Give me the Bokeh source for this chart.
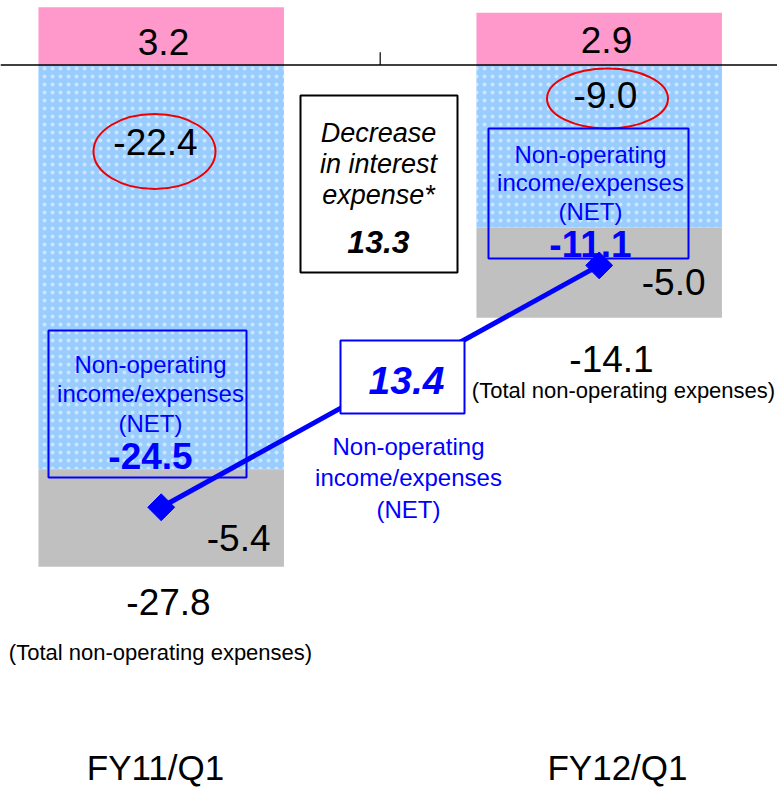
from bokeh.plotting import figure
from bokeh.models import Range1d, Span
from bokeh.core.properties import value
from bokeh.embed import file_html
from bokeh.resources import INLINE
import math

# Non-operating income / expenses, billions of yen
categories = ["FY11/Q1", "FY12/Q1"]
other_income = [3.2, 2.9]          # non-operating income
interest_expense = [-22.4, -9.0]   # interest expense
other_expense = [-5.4, -5.0]       # other non-operating expenses
total_expense = [-27.8, -14.1]     # total non-operating expenses
net_result = [-24.5, -11.1]        # non-operating income/expenses (NET)
net_change = 13.4
interest_decrease = 13.3

W, H = 777, 790
REG = "Liberation Sans"
BLUE = "#0000ff"

p = figure(width=W, height=H, output_backend="svg", toolbar_location=None,
           x_axis_type=None, y_axis_type=None, min_border=0,
           x_range=Range1d(-0.3669, 1.4071), y_range=Range1d(-40.19, 3.573))
p.outline_line_color = None
p.grid.visible = False
p.background_fill_color = "white"
p.border_fill_color = "white"
# pixel-space ranges for callouts and notes
p.extra_x_ranges = {"px": Range1d(0, W)}
p.extra_y_ranges = {"px": Range1d(H, 0)}
PX = dict(x_range_name="px", y_range_name="px")

xs = list(range(len(categories)))
bar_w = 0.5605
stack_bottom = [a + b for a, b in zip(interest_expense, other_expense)]

p.vbar(x=xs, bottom=0, top=other_income, width=bar_w,
       fill_color="#ff99cc", line_color=None)
p.vbar(x=xs, bottom=0, top=interest_expense, width=bar_w,
       fill_color="#99ccff", line_color=None,
       hatch_pattern="dot", hatch_color="white", hatch_alpha=0.5,
       hatch_scale=8, hatch_weight=1.5)
p.vbar(x=xs, bottom=interest_expense, top=stack_bottom, width=bar_w,
       fill_color="#c0c0c0", line_color=None)

# zero line and category separator tick
p.add_layout(Span(location=0, dimension="width", line_color="black", line_width=1.5))
p.segment(x0=[0.5], y0=[0], x1=[0.5], y1=[0.7], line_color="black", line_width=1.2)


def txt(x, y, s, size, color="black", style="normal", align="center"):
    p.text(x=[x], y=[y], text=[s], text_font=value(REG), text_font_size=f"{size}px",
           text_font_style=style, text_color=color, text_align=align,
           text_baseline="middle", **PX)


def box(l, r, t, b, color, lw, fill=None):
    p.quad(left=[l], right=[r], top=[t], bottom=[b], fill_color=fill,
           line_color=color, line_width=lw, **PX)


# segment values
txt(163, 41, f"{other_income[0]:.1f}", 37)
txt(606, 39, f"{other_income[1]:.1f}", 37)
txt(155, 141, f"{interest_expense[0]:.1f}", 37)
txt(605, 94, f"{interest_expense[1]:.1f}", 37)
txt(270, 537, f"{other_expense[0]:.1f}", 37, align="right")
txt(705, 281, f"{other_expense[1]:.1f}", 37, align="right")

# red rings around interest expense
p.ellipse(x=[154, 607], y=[151, 98], width=[122, 121], height=[75, 60],
          width_units="screen", height_units="screen",
          fill_color=None, line_color="#ee0000", line_width=2, **PX)

# totals
txt(168, 601, f"{total_expense[0]:.1f}", 37)
txt(160, 652, "(Total non-operating expenses)", 22)
txt(611, 358, f"{total_expense[1]:.1f}", 37)
txt(623, 390, "(Total non-operating expenses)", 22)

# NET boxes
box(48, 246, 330, 477, BLUE, 2)
for yy, s in [(364, "Non-operating"), (393, "income/expenses"), (423, "(NET)")]:
    txt(150, yy, s, 24, color=BLUE)
txt(150, 455, f"{net_result[0]:.1f}", 37, color=BLUE, style="bold")

box(488, 688, 128, 258, BLUE, 2)
for yy, s in [(154, "Non-operating"), (182, "income/expenses"), (211, "(NET)")]:
    txt(590, yy, s, 24, color=BLUE)
txt(590, 243, f"{net_result[1]:.1f}", 37, color=BLUE, style="bold")

# NET trend line
p.line(x=xs, y=net_result, line_color=BLUE, line_width=5)
p.scatter(x=xs, y=net_result, marker="square", size=19, angle=math.pi / 4,
          fill_color=BLUE, line_color=BLUE)

# change callout
box(340, 464, 340, 413, BLUE, 2, fill="white")
txt(406, 380, f"{net_change:.1f}", 39, color=BLUE, style="bold italic")
for yy, s in [(446, "Non-operating"), (477, "income/expenses"), (509, "(NET)")]:
    txt(408, yy, s, 24, color=BLUE)

# interest expense note
box(300, 457, 95, 272, "black", 2, fill="white")
for yy, s in [(132, "Decrease"), (163, "in interest"), (194, "expense*")]:
    txt(378, yy, s, 27, style="italic")
txt(378, 241, f"{interest_decrease:.1f}", 32, style="bold italic")

# category labels
txt(155, 767, categories[0], 35)
txt(617, 767, categories[1], 35)

open("out.html", "w").write(file_html(p, INLINE))
